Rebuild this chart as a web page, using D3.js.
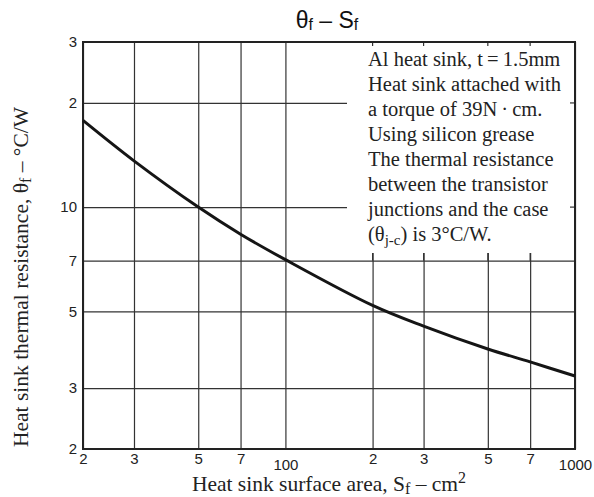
<!DOCTYPE html>
<html>
<head>
<meta charset="utf-8">
<script src="https://cdn.jsdelivr.net/npm/d3@7"></script>
<style>
  body { margin: 0; background: #fff; }
  .tick text { font-family: "Liberation Sans", Arial, sans-serif; font-size: 15px; fill: #222; }
  .serif { font-family: "Liberation Serif", "Times New Roman", serif; fill: #222; }
</style>
</head>
<body>
<script>
// heat sink surface area (cm2) vs thermal resistance (deg C/W)
var area = [20, 30, 50, 70, 100, 200, 300, 500, 700, 1000];
var resistance = [17.8, 13.6, 10.0, 8.35, 7.05, 5.2, 4.53, 3.89, 3.57, 3.25];

var xTicks = [20, 30, 50, 70, 100, 200, 300, 500, 700, 1000];
var xLabels = ["2", "3", "5", "7", "100", "2", "3", "5", "7", "1000"];
var yTicks = [30, 20, 10, 7, 5, 3, 2];
var yLabels = ["3", "2", "10", "7", "5", "3", "2"];

var noteLines = [
  "Al heat sink, t\u2009=\u20091.5mm",
  "Heat sink attached with",
  "a torque of 39N\u2009\u00b7\u2009cm.",
  "Using silicon grease",
  "The thermal resistance",
  "between the transistor",
  "junctions and the case"
];

var W = 594, H = 497;
var pLeft = 83, pTop = 42, pRight = 575, pBottom = 449;

var svg = d3.select("body").append("svg")
  .attr("width", W)
  .attr("height", H);

var x = d3.scaleLog().domain([20, 1000]).range([pLeft, pRight]);
var y = d3.scaleLog().domain([2, 30]).range([pBottom, pTop]);

// grid via axes
var gx = svg.append("g")
  .attr("transform", "translate(0," + pBottom + ")")
  .call(d3.axisBottom(x)
    .tickValues(xTicks)
    .tickFormat(function(d, i) { return xLabels[i]; })
    .tickSizeInner(-(pBottom - pTop))
    .tickSizeOuter(0)
    .tickPadding(4));
gx.select(".domain").remove();
gx.selectAll(".tick line").attr("stroke", "#333").attr("stroke-width", 1.2);
gx.selectAll(".tick text")
  .attr("dy", function(d) { return (d == 100 || d == 1000) ? "1.1em" : "0.71em"; });

var gy = svg.append("g")
  .attr("transform", "translate(" + pLeft + ",0)")
  .call(d3.axisLeft(y)
    .tickValues(yTicks)
    .tickFormat(function(d, i) { return yLabels[i]; })
    .tickSizeInner(-(pRight - pLeft))
    .tickSizeOuter(0)
    .tickPadding(6));
gy.select(".domain").remove();
gy.selectAll(".tick line").attr("stroke", "#333").attr("stroke-width", 1.2);

// white note box hiding part of the grid
var boxLeft = 347, boxBottom = 253;
svg.append("rect")
  .attr("x", boxLeft).attr("y", pTop)
  .attr("width", pRight - boxLeft).attr("height", boxBottom - pTop)
  .attr("fill", "#fff");

// small edge ticks where the grid is hidden
var hidX = xTicks.filter(function(d) { return x(d) > boxLeft && d < 1000; });
svg.selectAll(".topTick")
  .data(hidX)
  .enter().append("line")
  .attr("x1", function(d) { return x(d); }).attr("x2", function(d) { return x(d); })
  .attr("y1", pTop).attr("y2", pTop + 4)
  .attr("stroke", "#333").attr("stroke-width", 1.2);
svg.selectAll(".botTick")
  .data(hidX)
  .enter().append("line")
  .attr("x1", function(d) { return x(d); }).attr("x2", function(d) { return x(d); })
  .attr("y1", boxBottom).attr("y2", y(7))
  .attr("stroke", "#333").attr("stroke-width", 1.2);
svg.selectAll(".rightTick")
  .data(yTicks.filter(function(d) { return y(d) > pTop + 1 && y(d) < boxBottom; }))
  .enter().append("line")
  .attr("x1", pRight - 5).attr("x2", pRight)
  .attr("y1", function(d) { return y(d); }).attr("y2", function(d) { return y(d); })
  .attr("stroke", "#333").attr("stroke-width", 1.2);

// frame
svg.append("rect")
  .attr("x", pLeft).attr("y", pTop)
  .attr("width", pRight - pLeft).attr("height", pBottom - pTop)
  .attr("fill", "none").attr("stroke", "#222").attr("stroke-width", 2);

// curve
var line = d3.line()
  .x(function(d, i) { return x(area[i]); })
  .y(function(d) { return y(d); })
  .curve(d3.curveCatmullRom);
svg.append("path")
  .datum(resistance)
  .attr("d", line)
  .attr("fill", "none")
  .attr("stroke", "#151515")
  .attr("stroke-width", 3);

// note text
var note = svg.append("text").attr("class", "serif").attr("font-size", 20.5);
noteLines.forEach(function(s, i) {
  note.append("tspan").attr("x", 368).attr("y", 66 + i * 25).text(s);
});
var last = svg.append("text").attr("class", "serif").attr("font-size", 20.5)
  .attr("x", 368).attr("y", 66 + 7 * 25);
last.append("tspan").text("(\u03b8");
last.append("tspan").attr("font-size", 15).attr("dy", 4).text("j-c");
last.append("tspan").attr("dy", -4).text(") is 3\u00b0C/W.");

// title
var title = svg.append("text")
  .attr("x", 327).attr("y", 28)
  .attr("text-anchor", "middle")
  .attr("font-family", "Liberation Sans, Arial, sans-serif")
  .attr("font-size", 23).attr("fill", "#111");
title.append("tspan").text("\u03b8");
title.append("tspan").attr("font-size", 16).attr("dy", 2).text("f");
title.append("tspan").attr("dy", -2).text(" \u2013 S");
title.append("tspan").attr("font-size", 16).attr("dy", 2).text("f");

// x axis title
var xt = svg.append("text").attr("class", "serif")
  .attr("x", 329).attr("y", 491)
  .attr("text-anchor", "middle").attr("font-size", 21.5);
xt.append("tspan").text("Heat sink surface area, S");
xt.append("tspan").attr("font-size", 16).attr("dy", 3).text("f");
xt.append("tspan").attr("dy", -3).text(" \u2013 cm");
xt.append("tspan").attr("font-size", 16).attr("dy", -8).text("2");

// y axis title
var yt = svg.append("text").attr("class", "serif")
  .attr("transform", "translate(28,277) rotate(-90)")
  .attr("text-anchor", "middle").attr("font-size", 21.5);
yt.append("tspan").text("Heat sink thermal resistance, \u03b8");
yt.append("tspan").attr("font-size", 16).attr("dy", 3).text("f");
yt.append("tspan").attr("dy", -3).text(" \u2013 \u00b0C/W");
</script>
</body>
</html>
